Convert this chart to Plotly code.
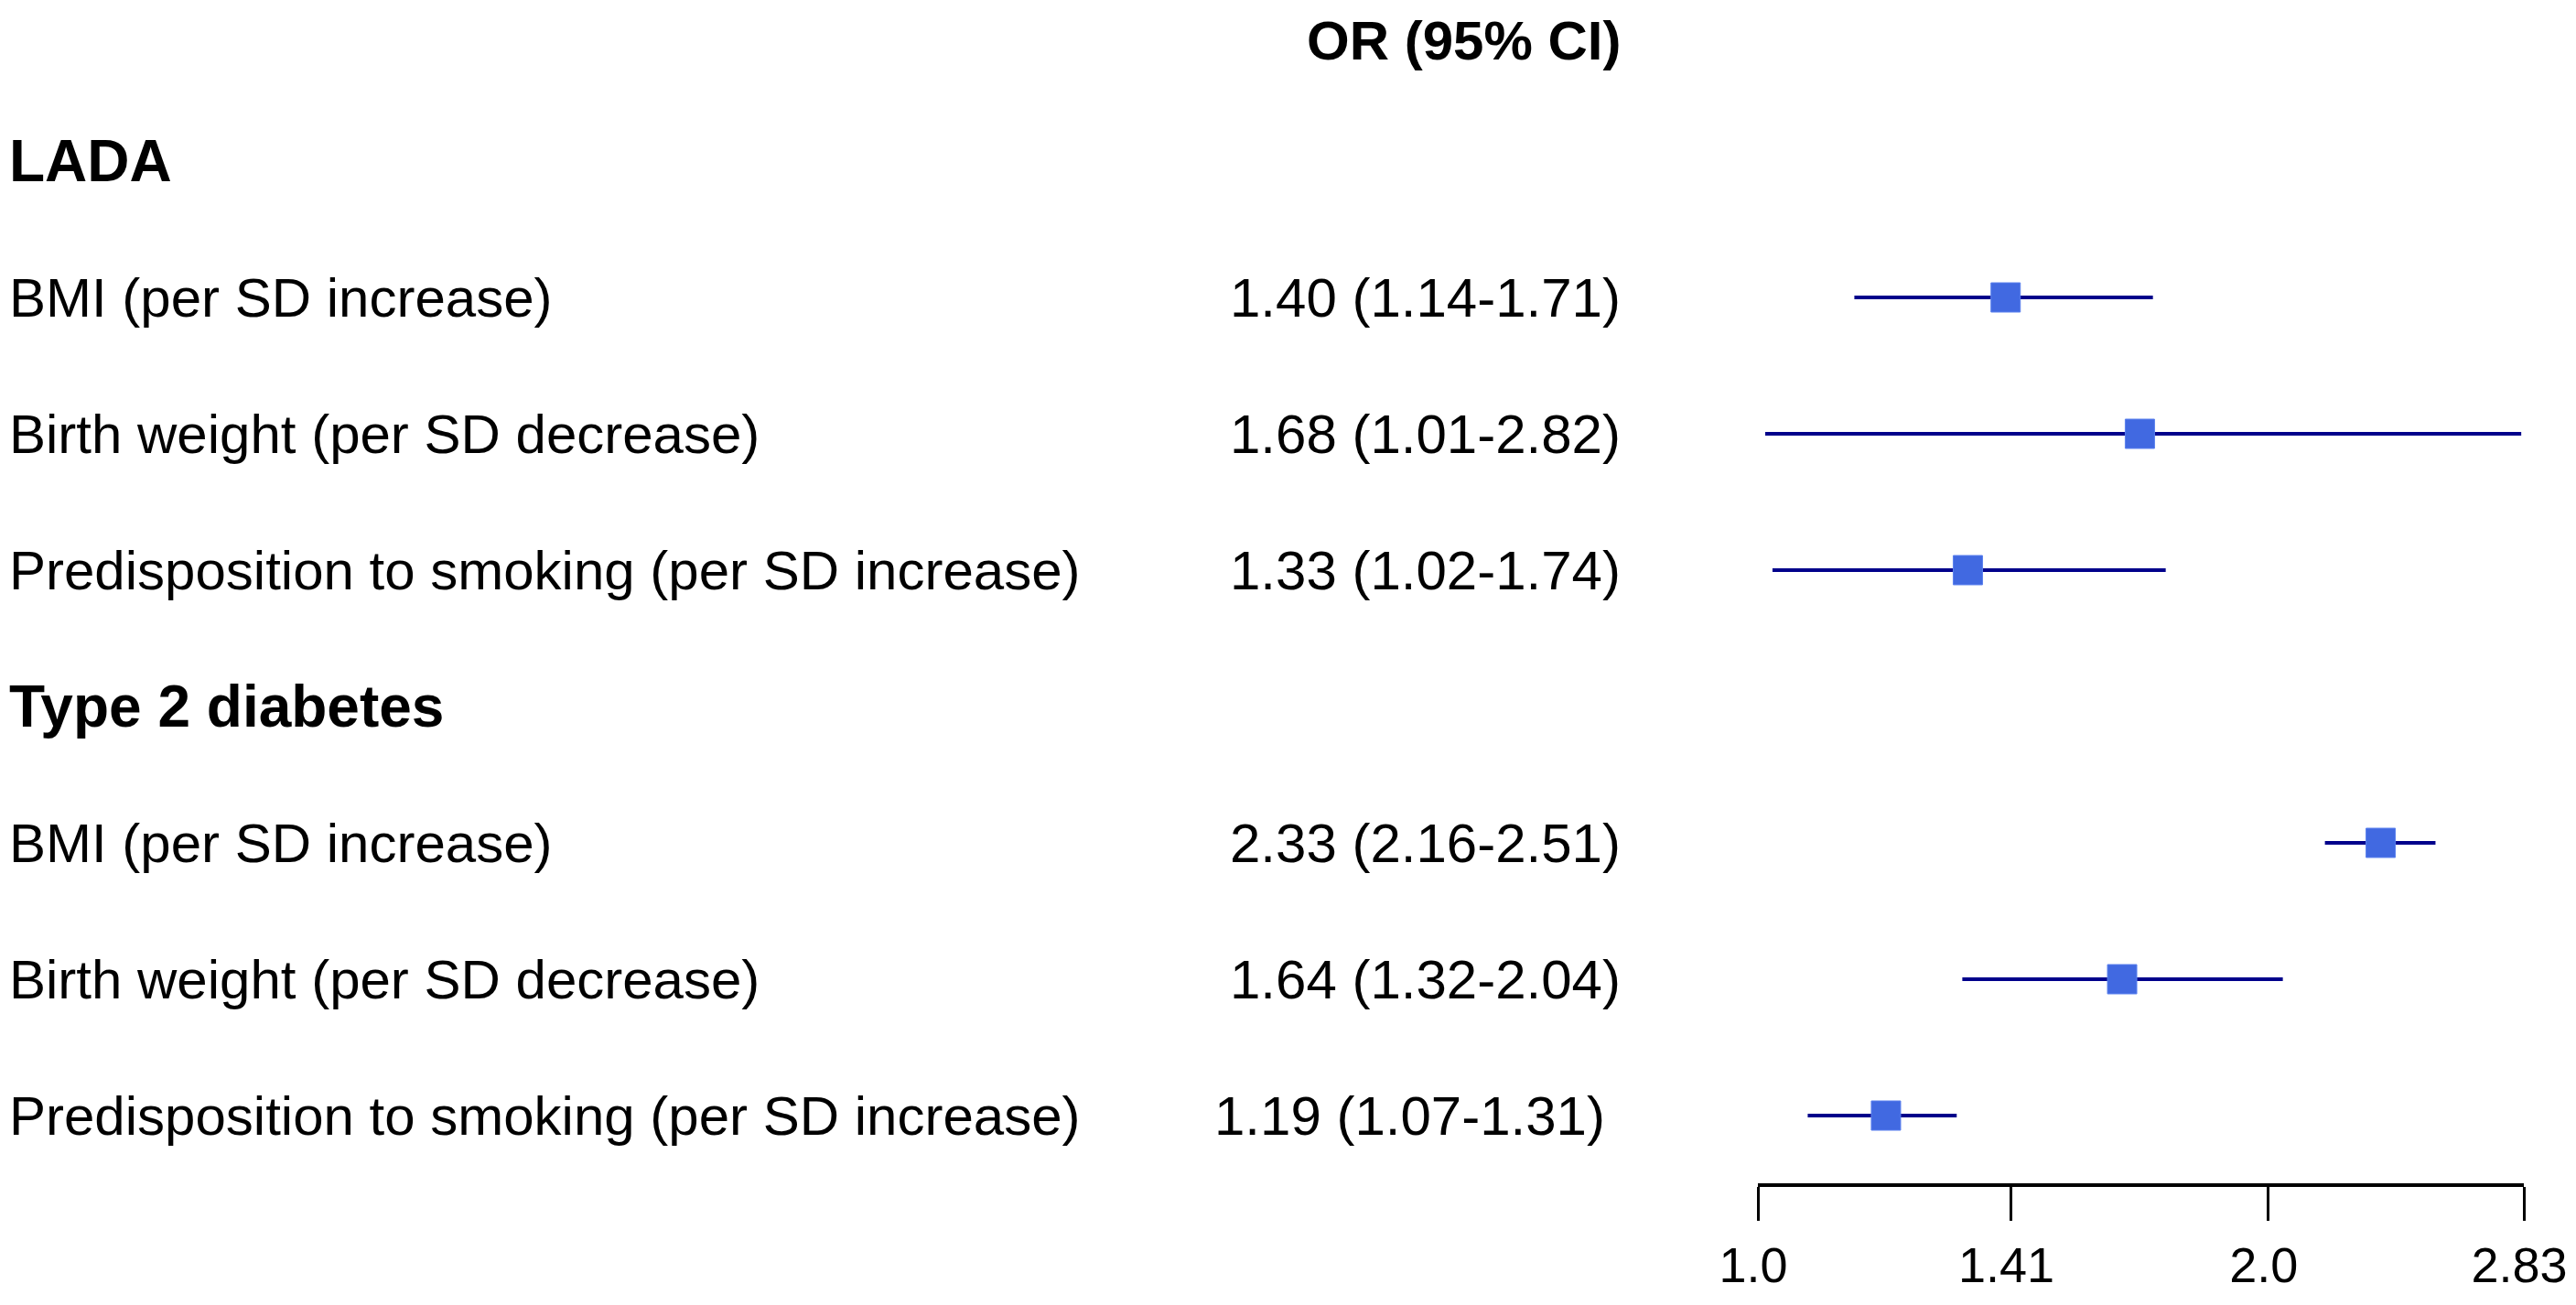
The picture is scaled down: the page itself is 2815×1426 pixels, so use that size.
import math
import plotly.graph_objects as go

# Forest plot data
groups = ["LADA", "Type 2 diabetes"]
exposures = ["BMI (per SD increase)",
             "Birth weight (per SD decrease)",
             "Predisposition to smoking (per SD increase)"]

or_est = [[1.40, 1.68, 1.33], [2.33, 1.64, 1.19]]
ci_low = [[1.14, 1.01, 1.02], [2.16, 1.32, 1.07]]
ci_high = [[1.71, 2.82, 1.74], [2.51, 2.04, 1.31]]
ci_text = [["1.40 (1.14-1.71)", "1.68 (1.01-2.82)", "1.33 (1.02-1.74)"],
           ["2.33 (2.16-2.51)", "1.64 (1.32-2.04)", "1.19 (1.07-1.31)\u00a0"]]

tick_vals = [1.0, 1.41, 2.0, 2.83]
tick_text = ["1.0", "1.41", "2.0", "2.83"]

# page body has an 8px margin, so the figure is 16px smaller than the window
W, H = 2799, 1410
FONT = "Liberation Sans, Arial, sans-serif"
row0_px, row_step = 19, 149          # pixel centre of row 0 and row spacing
axis_px = 1285                       # pixel y of the x axis line
ci_right = 1765                      # right edge of the OR (95% CI) column

fig = go.Figure()
annotations = []

# header (kept a little below the top edge so it is not clipped)
annotations.append(dict(x=ci_right / W, y=0.12, xref="paper", yref="y",
                        text="<b>OR (95% CI)</b>", showarrow=False,
                        xanchor="right", yanchor="middle",
                        font=dict(family=FONT, size=60, color="black")))

row = 1
xs, ys, em, ep = [], [], [], []
for g, name in enumerate(groups):
    annotations.append(dict(x=0, y=row, xref="paper", yref="y",
                            text="<b>" + name + "</b>", showarrow=False,
                            xanchor="left", yanchor="middle",
                            font=dict(family=FONT, size=64, color="black")))
    row += 1
    for i, lab in enumerate(exposures):
        annotations.append(dict(x=0, y=row, xref="paper", yref="y",
                                text=lab, showarrow=False,
                                xanchor="left", yanchor="middle",
                                font=dict(family=FONT, size=60, color="black")))
        annotations.append(dict(x=ci_right / W, y=row, xref="paper", yref="y",
                                text=ci_text[g][i], showarrow=False,
                                xanchor="right", yanchor="middle",
                                font=dict(family=FONT, size=60, color="black")))
        xs.append(or_est[g][i])
        ys.append(row)
        em.append(or_est[g][i] - ci_low[g][i])
        ep.append(ci_high[g][i] - or_est[g][i])
        row += 1

fig.add_trace(go.Scatter(
    x=xs, y=ys, mode="markers",
    marker=dict(symbol="square", size=32, color="#4169E1",
                line=dict(width=1, color="#5a80ee")),
    error_x=dict(type="data", symmetric=False, array=ep, arrayminus=em,
                 color="#00008B", thickness=4, width=0),
    showlegend=False, hoverinfo="x+y"))

y_bottom = (axis_px - row0_px) / row_step
y_top = -row0_px / row_step

# reference line at OR = 1
fig.add_shape(type="line", xref="x", yref="y", x0=0, x1=0,
              y0=1.476, y1=y_bottom,
              line=dict(color="#cccccc", width=3))

fig.update_layout(
    template="none",
    width=W, height=H,
    margin=dict(l=0, r=0, t=0, b=0, pad=0, autoexpand=False),
    paper_bgcolor="white", plot_bgcolor="white",
    annotations=annotations,
    xaxis=dict(type="log", domain=[1913 / W, 2750 / W],
               range=[0, math.log10(2.83)], automargin=False,
               tickvals=tick_vals, ticktext=tick_text,
               showgrid=False, zeroline=False,
               showline=True, linecolor="black", linewidth=4,
               ticks="outside", ticklen=37, tickwidth=3, tickcolor="black",
               ticklabelstandoff=2, ticklabelshift=-5,
               ticklabeloverflow="allow",
               tickfont=dict(family=FONT, size=54, color="black")),
    yaxis=dict(domain=[(H - axis_px) / H, 1], range=[y_bottom, y_top],
               automargin=False, visible=False,
               showgrid=False, zeroline=False),
)

fig.write_html("out.html")
